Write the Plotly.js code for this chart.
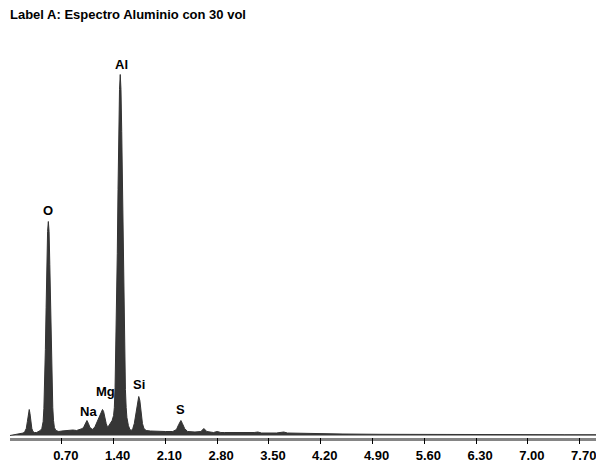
<!DOCTYPE html>
<html>
<head>
<meta charset="utf-8">
<script src="https://cdn.plot.ly/plotly-3.0.1.min.js"></script>
<style>html,body{margin:0;padding:0;background:#fff;}#chart{width:596px;height:467px;}</style>
</head>
<body>
<div id="chart"></div>
<script>
// Energy axis (keV) and counts
var energyKeV = [
  0.00, 0.05, 0.10, 0.15, 0.18, 0.20, 0.22, 0.235, 0.25, 0.26, 0.27, 0.28, 0.295, 0.31, 0.33, 0.36, 0.39,
  0.41, 0.43, 0.448, 0.458, 0.468, 0.478, 0.488, 0.498, 0.508, 0.518, 0.528, 0.538, 0.548, 0.558, 0.568,
  0.578, 0.588, 0.60, 0.62, 0.66, 0.70, 0.75, 0.80, 0.85, 0.90, 0.95, 0.98, 1.00, 1.02, 1.04, 1.06, 1.08,
  1.10, 1.12, 1.15, 1.18, 1.21, 1.235, 1.25, 1.265, 1.28, 1.30, 1.32, 1.34, 1.36, 1.38, 1.40, 1.41, 1.42,
  1.43, 1.44, 1.45, 1.46, 1.47, 1.48, 1.49, 1.50, 1.51, 1.52, 1.53, 1.54, 1.55, 1.56, 1.57, 1.58, 1.60,
  1.62, 1.64, 1.66, 1.68, 1.70, 1.72, 1.74, 1.755, 1.77, 1.79, 1.81, 1.84, 1.90, 2.00, 2.10, 2.20, 2.25,
  2.28, 2.31, 2.33, 2.36, 2.40, 2.50, 2.58, 2.62, 2.66, 2.75, 2.80, 2.85, 2.90, 3.00, 3.10, 3.30, 3.35,
  3.40, 3.60, 3.70, 3.75, 4.00, 4.50, 5.00, 5.50, 6.00, 6.50, 7.00, 7.50, 7.92
];
var counts = [
  0, 5, 10, 15, 25, 40, 70, 140, 220, 260, 220, 140, 70, 40, 30, 30, 40,
  50, 70, 140, 270, 500, 860, 1280, 1720, 2040, 2140, 2040, 1710, 1270, 850, 500,
  280, 150, 80, 50, 40, 45, 50, 50, 55, 50, 60, 70, 90, 120, 150, 120, 80,
  70, 60, 90, 140, 200, 240, 260, 240, 180, 120, 80, 100, 120, 150, 200, 280, 480,
  820, 1250, 1820, 2460, 3050, 3460, 3610, 3460, 3040, 2450, 1810, 1230, 790, 460, 280, 180, 100,
  60, 50, 70, 120, 220, 330, 390, 350, 240, 120, 70, 50, 45, 40, 40, 40, 60,
  110, 150, 120, 70, 40, 35, 40, 70, 40, 30, 40, 30, 30, 30, 25, 30, 35,
  25, 25, 35, 25, 20, 15, 12, 10, 10, 10, 10, 8, 8
];
// Peak labels (element, line energy keV)
var peakNames = ["O", "Na", "Mg", "Al", "Si", "S"];
var peakEnergies = [0.518, 1.04, 1.25, 1.49, 1.74, 2.31];
var tickValues = [0.70, 1.40, 2.10, 2.80, 3.50, 4.20, 4.90, 5.60, 6.30, 7.00, 7.70];
var titleText = "Label A: Espectro Aluminio con 30 vol";

var FONT = "'Liberation Sans', Arial, sans-serif";

function peakMax(e) {
  var m = 0;
  for (var i = 0; i < energyKeV.length; i++) {
    if (Math.abs(energyKeV[i] - e) <= 0.02 && counts[i] > m) m = counts[i];
  }
  return m;
}
// per-label pixel nudges (layout only)
var labelNudge = {"O": [0, 11], "Na": [2, 9], "Mg": [3, 18], "Al": [1, 10], "Si": [0, 12], "S": [0, 11]};

var annotations = peakNames.map(function (n, i) {
  return {
    x: peakEnergies[i], y: peakMax(peakEnergies[i]), xref: "x", yref: "y",
    text: n, showarrow: false, xanchor: "center", yanchor: "middle",
    xshift: labelNudge[n][0], yshift: labelNudge[n][1],
    font: {family: FONT, size: 13, color: "#000", weight: "bold"}
  };
});

var trace = {
  x: energyKeV, y: counts, type: "scatter", mode: "lines",
  line: {color: "#333333", width: 1, shape: "linear"},
  fill: "tozeroy", fillcolor: "#363636", hoverinfo: "skip"
};

var layout = {
  width: 596, height: 467,
  margin: {l: 10, r: 0, t: 40, b: 30, pad: 0},
  paper_bgcolor: "#fff", plot_bgcolor: "#fff",
  showlegend: false,
  title: {
    text: titleText, x: 10 / 596, xanchor: "left", xref: "container",
    y: 1 - 14 / 467, yanchor: "middle", yref: "container",
    font: {family: FONT, size: 13, color: "#000", weight: "bold"}
  },
  xaxis: {
    range: [0, 7.92], tickmode: "array", tickvals: tickValues,
    ticktext: tickValues.map(function (v) { return v.toFixed(2); }),
    ticks: "outside", ticklen: 6, tickwidth: 1, tickcolor: "#000",
    showline: false, showgrid: false, zeroline: false,
    tickfont: {family: FONT, size: 13, color: "#000", weight: "bold"},
    ticklabelshift: 4, ticklabeloverflow: "allow", fixedrange: true
  },
  yaxis: {
    range: [-15, 3955], visible: false, showgrid: false, zeroline: false, fixedrange: true
  },
  shapes: [{
    type: "rect", xref: "paper", x0: 0, x1: 1, yref: "paper", ysizemode: "pixel",
    yanchor: 0, y0: -1, y1: -4, fillcolor: "#858585", line: {width: 0}, layer: "below"
  }],
  annotations: annotations
};

Plotly.newPlot("chart", [trace], layout, {staticPlot: true, displayModeBar: false});
</script>
</body>
</html>
